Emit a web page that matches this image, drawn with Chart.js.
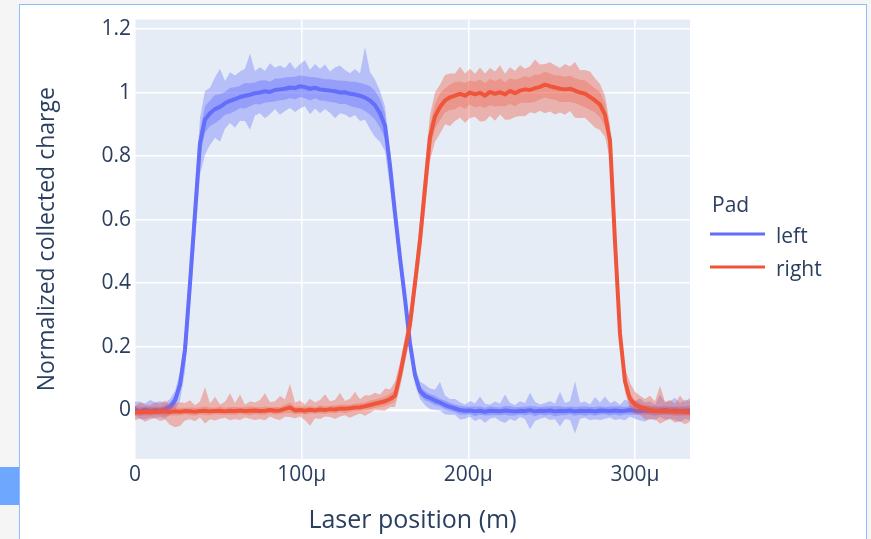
<!DOCTYPE html>
<html>
<head>
<meta charset="utf-8">
<title>Collected charge vs laser position</title>
<script src="https://cdn.jsdelivr.net/npm/chart.js@4.4.1/dist/chart.umd.min.js"></script>
<style>
  html, body { margin: 0; padding: 0; }
  body { width: 871px; height: 539px; background: #f5f5f5; position: relative; overflow: hidden; }
  .card { position: absolute; left: 19px; top: 4px; width: 846px; height: 560px; background: #fff; border: 1.5px solid #8fbcfb; }
  .tab { position: absolute; left: 0; top: 467px; width: 19px; height: 38px; background: #6ea8fe; }
  #chargeChart { position: absolute; left: 0; top: 0; }
</style>
</head>
<body>
<div class="card"></div>
<div class="tab"></div>
<canvas id="chargeChart" width="871" height="539"></canvas>
<script>
// laser position in micrometres
const positionUm = [
  0, 3, 6, 9, 12, 15, 18, 21, 24, 27,
  30, 33, 36, 39, 42, 45, 48, 51, 54, 57,
  60, 63, 66, 69, 72, 75, 78, 81, 84, 87,
  90, 93, 96, 99, 102, 105, 108, 111, 114, 117,
  120, 123, 126, 129, 132, 135, 138, 141, 144, 147,
  150, 153, 156, 159, 162, 165, 168, 171, 174, 177,
  180, 183, 186, 189, 192, 195, 198, 201, 204, 207,
  210, 213, 216, 219, 222, 225, 228, 231, 234, 237,
  240, 243, 246, 249, 252, 255, 258, 261, 264, 267,
  270, 273, 276, 279, 282, 285, 288, 291, 294, 297,
  300, 303, 306, 309, 312, 315, 318, 321, 324, 327,
  330, 333,
];

// left pad
const leftMean = [
  0.002, -0.004, 0.001, -0.003, 0.0, -0.002, 0.003, 0.01, 0.03, 0.08,
  0.19, 0.4, 0.62, 0.84, 0.915, 0.935, 0.948, 0.955, 0.966, 0.974,
  0.979, 0.986, 0.99, 0.993, 0.998, 1.0, 1.004, 1.002, 1.008, 1.01,
  1.012, 1.016, 1.014, 1.02, 1.017, 1.012, 1.015, 1.01, 1.008, 1.006,
  1.004, 1.0, 1.001, 0.996, 0.994, 0.99, 0.984, 0.975, 0.96, 0.935,
  0.895, 0.77, 0.62, 0.48, 0.35, 0.21, 0.11, 0.06, 0.045, 0.038,
  0.03, 0.024, 0.016, 0.01, 0.005, 0.0, -0.002, -0.001, -0.004, -0.002,
  -0.005, -0.002, -0.003, -0.004, -0.001, -0.003, -0.004, -0.002, -0.003, 0.0,
  -0.004, -0.002, -0.003, -0.001, -0.004, -0.002, -0.003, -0.001, -0.004, -0.002,
  -0.003, -0.002, -0.004, -0.001, -0.002, -0.003, -0.001, -0.003, -0.002, 0.0,
  -0.002, -0.003, -0.001, -0.002, -0.003, -0.001, 0.0, -0.002, -0.001, -0.003,
  -0.002, -0.001,
];
const leftInner = [
  0.012, 0.014, 0.01, 0.013, 0.011, 0.012, 0.013, 0.014, 0.016, 0.02,
  0.025, 0.03, 0.035, 0.04, 0.042, 0.04, 0.045, 0.04, 0.036, 0.04,
  0.038, 0.035, 0.04, 0.036, 0.034, 0.038, 0.035, 0.032, 0.036, 0.034,
  0.035, 0.033, 0.036, 0.034, 0.035, 0.037, 0.033, 0.035, 0.034, 0.036,
  0.035, 0.037, 0.036, 0.038, 0.04, 0.04, 0.042, 0.045, 0.045, 0.045,
  0.04, 0.035, 0.03, 0.025, 0.02, 0.018, 0.016, 0.015, 0.014, 0.013,
  0.015, 0.012, 0.014, 0.013, 0.012, 0.014, 0.013, 0.012, 0.015, 0.013,
  0.012, 0.014, 0.013, 0.012, 0.014, 0.015, 0.013, 0.012, 0.014, 0.013,
  0.015, 0.012, 0.014, 0.013, 0.016, 0.014, 0.013, 0.012, 0.014, 0.013,
  0.015, 0.012, 0.014, 0.013, 0.012, 0.014, 0.013, 0.015, 0.012, 0.014,
  0.013, 0.012, 0.014, 0.013, 0.015, 0.012, 0.014, 0.013, 0.012, 0.014,
  0.013, 0.015,
];
const leftOuterUp = [
  0.025, 0.03, 0.02, 0.035, 0.025, 0.03, 0.02, 0.025, 0.03, 0.04,
  0.05, 0.06, 0.07, 0.08, 0.09, 0.08, 0.1, 0.12, 0.07, 0.09,
  0.075, 0.08, 0.085, 0.13, 0.07, 0.08, 0.065, 0.09, 0.07, 0.075,
  0.065, 0.08, 0.06, 0.07, 0.085, 0.06, 0.075, 0.065, 0.08, 0.06,
  0.075, 0.085, 0.07, 0.065, 0.08, 0.07, 0.16, 0.09, 0.08, 0.07,
  0.06, 0.05, 0.04, 0.035, 0.03, 0.03, 0.025, 0.03, 0.035, 0.03,
  0.035, 0.065, 0.03, 0.025, 0.03, 0.025, 0.02, 0.03, 0.025, 0.045,
  0.025, 0.02, 0.03, 0.025, 0.05, 0.025, 0.02, 0.03, 0.025, 0.055,
  0.03, 0.02, 0.025, 0.03, 0.025, 0.06, 0.025, 0.03, 0.095, 0.025,
  0.03, 0.02, 0.045, 0.025, 0.045, 0.025, 0.03, 0.02, 0.035, 0.025,
  0.03, 0.04, 0.025, 0.03, 0.02, 0.05, 0.025, 0.03, 0.04, 0.025,
  0.035, 0.03,
];
const leftOuterDown = [
  0.02, 0.025, 0.03, 0.02, 0.025, 0.02, 0.03, 0.025, 0.03, 0.05,
  0.07, 0.08, 0.09, 0.1, 0.11, 0.1, 0.09, 0.11, 0.08, 0.07,
  0.09, 0.075, 0.08, 0.11, 0.07, 0.065, 0.085, 0.07, 0.06, 0.08,
  0.07, 0.065, 0.075, 0.07, 0.06, 0.08, 0.065, 0.075, 0.06, 0.07,
  0.085, 0.065, 0.07, 0.075, 0.065, 0.08, 0.07, 0.09, 0.1, 0.09,
  0.08, 0.07, 0.05, 0.04, 0.035, 0.03, 0.03, 0.025, 0.03, 0.035,
  0.03, 0.025, 0.03, 0.025, 0.02, 0.03, 0.025, 0.02, 0.03, 0.025,
  0.035, 0.025, 0.02, 0.03, 0.04, 0.025, 0.03, 0.02, 0.025, 0.06,
  0.03, 0.025, 0.02, 0.03, 0.025, 0.05, 0.025, 0.03, 0.07, 0.025,
  0.02, 0.03, 0.025, 0.03, 0.025, 0.02, 0.03, 0.025, 0.03, 0.02,
  0.025, 0.03, 0.035, 0.025, 0.03, 0.02, 0.03, 0.025, 0.03, 0.035,
  0.025, 0.03,
];

// right pad
const rightMean = [
  -0.008, -0.006, -0.007, -0.005, -0.006, -0.004, -0.005, -0.006, -0.004, -0.005,
  -0.003, -0.004, -0.005, -0.003, -0.002, -0.004, -0.003, -0.002, -0.004, -0.002,
  -0.003, -0.001, -0.003, -0.002, -0.001, -0.003, -0.002, 0.0, -0.002, -0.001,
  0.004, 0.008, -0.001, 0.0, -0.002, 0.001, -0.001, 0.002, 0.0, 0.003,
  0.002, 0.005, 0.004, 0.006, 0.008, 0.009, 0.012, 0.016, 0.02, 0.024,
  0.028, 0.035, 0.045, 0.11, 0.19, 0.27, 0.4, 0.535, 0.7, 0.86,
  0.925, 0.955, 0.975, 0.985, 0.99, 0.996, 0.99, 1.0, 0.994, 0.999,
  0.99, 1.002, 0.996, 1.001, 0.994, 1.005, 0.998, 1.006, 1.01, 1.008,
  1.014, 1.018, 1.025, 1.02, 1.016, 1.012, 1.01, 1.012, 1.006, 1.0,
  0.996, 0.986, 0.975, 0.962, 0.93, 0.85, 0.53, 0.24, 0.09, 0.035,
  0.018, 0.01, 0.005, 0.0, -0.002, -0.003, -0.004, -0.003, -0.005, -0.004,
  -0.005, -0.006,
];
const rightInner = [
  0.01, 0.012, 0.011, 0.013, 0.01, 0.012, 0.014, 0.011, 0.013, 0.012,
  0.01, 0.012, 0.013, 0.011, 0.014, 0.012, 0.01, 0.013, 0.011, 0.012,
  0.013, 0.01, 0.012, 0.014, 0.011, 0.012, 0.013, 0.01, 0.012, 0.011,
  0.014, 0.016, 0.012, 0.011, 0.013, 0.012, 0.01, 0.013, 0.012, 0.011,
  0.013, 0.012, 0.014, 0.011, 0.012, 0.013, 0.012, 0.014, 0.013, 0.014,
  0.015, 0.016, 0.018, 0.02, 0.022, 0.025, 0.028, 0.03, 0.035, 0.04,
  0.04, 0.042, 0.038, 0.04, 0.043, 0.039, 0.041, 0.038, 0.04, 0.042,
  0.039, 0.041, 0.04, 0.043, 0.038, 0.04, 0.042, 0.039, 0.041, 0.04,
  0.043, 0.039, 0.041, 0.04, 0.038, 0.042, 0.04, 0.041, 0.039, 0.04,
  0.042, 0.04, 0.038, 0.04, 0.038, 0.035, 0.03, 0.025, 0.02, 0.016,
  0.014, 0.013, 0.012, 0.014, 0.012, 0.013, 0.011, 0.012, 0.014, 0.012,
  0.013, 0.012,
];
const rightOuterUp = [
  0.02, 0.03, 0.025, 0.02, 0.03, 0.025, 0.035, 0.02, 0.025, 0.03,
  0.025, 0.035, 0.02, 0.03, 0.075, 0.025, 0.045, 0.02, 0.03, 0.055,
  0.025, 0.05, 0.02, 0.03, 0.025, 0.035, 0.055, 0.025, 0.03, 0.045,
  0.03, 0.075, 0.025, 0.03, 0.02, 0.035, 0.025, 0.03, 0.05, 0.025,
  0.03, 0.05, 0.025, 0.03, 0.05, 0.025, 0.035, 0.03, 0.035, 0.025,
  0.04, 0.03, 0.045, 0.04, 0.04, 0.045, 0.05, 0.06, 0.07, 0.07,
  0.075, 0.07, 0.08, 0.075, 0.07, 0.085, 0.07, 0.075, 0.065, 0.08,
  0.07, 0.075, 0.07, 0.085, 0.065, 0.075, 0.07, 0.08, 0.065, 0.075,
  0.09, 0.07, 0.065, 0.075, 0.07, 0.065, 0.08, 0.07, 0.09, 0.07,
  0.075, 0.08, 0.07, 0.065, 0.06, 0.05, 0.04, 0.035, 0.04, 0.05,
  0.04, 0.035, 0.03, 0.045, 0.03, 0.08, 0.03, 0.035, 0.025, 0.05,
  0.03, 0.045,
];
const rightOuterDown = [
  0.025, 0.02, 0.03, 0.025, 0.02, 0.03, 0.025, 0.04, 0.05, 0.045,
  0.03, 0.025, 0.03, 0.02, 0.04, 0.025, 0.03, 0.025, 0.02, 0.03,
  0.025, 0.03, 0.02, 0.025, 0.03, 0.025, 0.03, 0.02, 0.025, 0.03,
  0.025, 0.03, 0.025, 0.02, 0.03, 0.05, 0.025, 0.03, 0.02, 0.025,
  0.03, 0.025, 0.02, 0.03, 0.025, 0.02, 0.03, 0.025, 0.02, 0.025,
  0.03, 0.025, 0.035, 0.04, 0.04, 0.045, 0.05, 0.06, 0.07, 0.075,
  0.08, 0.085, 0.075, 0.09, 0.08, 0.075, 0.085, 0.08, 0.07, 0.09,
  0.08, 0.075, 0.085, 0.07, 0.08, 0.09, 0.075, 0.08, 0.085, 0.07,
  0.08, 0.075, 0.09, 0.08, 0.085, 0.075, 0.08, 0.07, 0.085, 0.08,
  0.075, 0.08, 0.085, 0.08, 0.07, 0.06, 0.05, 0.04, 0.035, 0.03,
  0.03, 0.025, 0.035, 0.03, 0.025, 0.04, 0.03, 0.025, 0.035, 0.03,
  0.04, 0.03,
];

const positionTicks = [0, 100, 200, 300];
const positionTickLabels = ["0", "100\u03bc", "200\u03bc", "300\u03bc"];
const chargeTicks = [0, 0.2, 0.4, 0.6, 0.8, 1, 1.2];
const chargeTickLabels = ["0", "0.2", "0.4", "0.6", "0.8", "1", "1.2"];
const padNames = ["left", "right"];

(() => {
  const ctx = document.getElementById("chargeChart");
  const textColor = "#2a3f5f";
  const blue = "#636efa";
  const red = "#ef553b";

  [leftMean, leftInner, leftOuterUp, leftOuterDown, rightMean, rightInner, rightOuterUp, rightOuterDown]
    .forEach((arr, k) => {
      if (arr.length !== positionUm.length) {
        throw new Error(`series ${k} has ${arr.length} values, expected ${positionUm.length}`);
      }
    });

  const toPoints = (values) => values.map((v, i) => ({ x: positionUm[i], y: v }));
  const offset = (mean, delta, sign) => mean.map((m, i) => m + sign * delta[i]);

  const lineSet = (label, values, color, order) => ({
    label,
    data: toPoints(values),
    borderColor: color,
    backgroundColor: color,
    borderWidth: 4,
    borderJoinStyle: "round",
    borderCapStyle: "round",
    pointRadius: 0,
    fill: false,
    order,
  });

  const bandSet = (label, values, fill, color, order) => ({
    label,
    data: toPoints(values),
    borderColor: "rgba(0,0,0,0)",
    borderWidth: 0,
    backgroundColor: color,
    pointRadius: 0,
    fill,
    order,
  });

  const plotBackground = {
    id: "plotBackground",
    beforeDraw(chart) {
      const { ctx: c, chartArea: a } = chart;
      c.save();
      c.fillStyle = "#e5ecf6";
      c.fillRect(a.left, a.top, a.right - a.left, a.bottom - a.top);
      c.restore();
    },
  };

  // plotly-like legend: title "Pad", then one line sample per pad
  const padLegend = {
    id: "padLegend",
    afterDraw(chart) {
      const { ctx: c, chartArea: a } = chart;
      const x = a.right + 20;
      c.save();
      c.font = '21px "Open Sans", sans-serif';
      c.fillStyle = textColor;
      c.textBaseline = "alphabetic";
      c.fillText("Pad", x + 2, 211.5);
      [0, 1].forEach((idx, row) => {
        const ds = chart.data.datasets[idx];
        const y = 234 + row * 33;
        c.strokeStyle = ds.borderColor;
        c.lineWidth = 3;
        c.beginPath();
        c.moveTo(x, y);
        c.lineTo(x + 55, y);
        c.stroke();
        c.fillText(ds.label, x + 66, y + 9);
      });
      c.restore();
    },
  };

  const chart = new Chart(ctx, {
    type: "line",
    data: {
      datasets: [
        lineSet(padNames[0], leftMean, blue, 3),
        lineSet(padNames[1], rightMean, red, 1),
        bandSet("left min", offset(leftMean, leftOuterDown, -1), false, "rgba(0,0,0,0)", 4),
        bandSet("left max", offset(leftMean, leftOuterUp, 1), 2, "rgba(99, 110, 250, 0.36)", 4),
        bandSet("left -sd", offset(leftMean, leftInner, -1), false, "rgba(0,0,0,0)", 4),
        bandSet("left +sd", offset(leftMean, leftInner, 1), 4, "rgba(99, 110, 250, 0.4)", 4),
        bandSet("right min", offset(rightMean, rightOuterDown, -1), false, "rgba(0,0,0,0)", 2),
        bandSet("right max", offset(rightMean, rightOuterUp, 1), 6, "rgba(239, 85, 59, 0.38)", 2),
        bandSet("right -sd", offset(rightMean, rightInner, -1), false, "rgba(0,0,0,0)", 2),
        bandSet("right +sd", offset(rightMean, rightInner, 1), 8, "rgba(239, 85, 59, 0.3)", 2),
      ],
    },
    options: {
      responsive: false,
      animation: false,
      devicePixelRatio: 1,
      layout: {
        padding: { left: 0, top: 19.5, right: 181, bottom: 0 },
      },
      font: { family: '"Open Sans", sans-serif' },
      plugins: {
        legend: { display: false },
        tooltip: { enabled: false },
      },
      scales: {
        x: {
          type: "linear",
          min: 0,
          max: 333,
          afterBuildTicks: (axis) => {
            axis.ticks = positionTicks.map((value) => ({ value }));
          },
          afterFit: (scale) => {
            scale.height = 80;
          },
          ticks: {
            callback: (value, index) => positionTickLabels[index],
            color: textColor,
            font: { family: '"Open Sans", sans-serif', size: 21 },
            padding: 3,
            maxRotation: 0,
          },
          grid: { color: "#ffffff", lineWidth: 1.5, drawTicks: false },
          border: { display: false },
          title: {
            display: true,
            text: "Laser position (m)",
            color: textColor,
            font: { family: '"Open Sans", sans-serif', size: 25 },
            padding: { top: 0, bottom: 3 },
          },
        },
        y: {
          type: "linear",
          min: -0.154,
          max: 1.23,
          afterBuildTicks: (axis) => {
            axis.ticks = chargeTicks.map((value) => ({ value }));
          },
          afterFit: (scale) => {
            scale.width = 135;
          },
          ticks: {
            callback: (value, index) => chargeTickLabels[index],
            color: textColor,
            font: { family: '"Open Sans", sans-serif', size: 21 },
            padding: 4,
          },
          grid: {
            color: "#ffffff",
            lineWidth: (c) => (c.tick && c.tick.value === 0 ? 2.5 : 1.5),
            drawTicks: false,
          },
          border: { display: false },
          title: {
            display: true,
            text: "Normalized collected charge",
            color: textColor,
            font: { family: '"Open Sans", sans-serif', size: 23 },
            padding: { top: 34, bottom: 0 },
          },
        },
      },
    },
    plugins: [plotBackground, padLegend],
  });
})();
</script>
</body>
</html>
